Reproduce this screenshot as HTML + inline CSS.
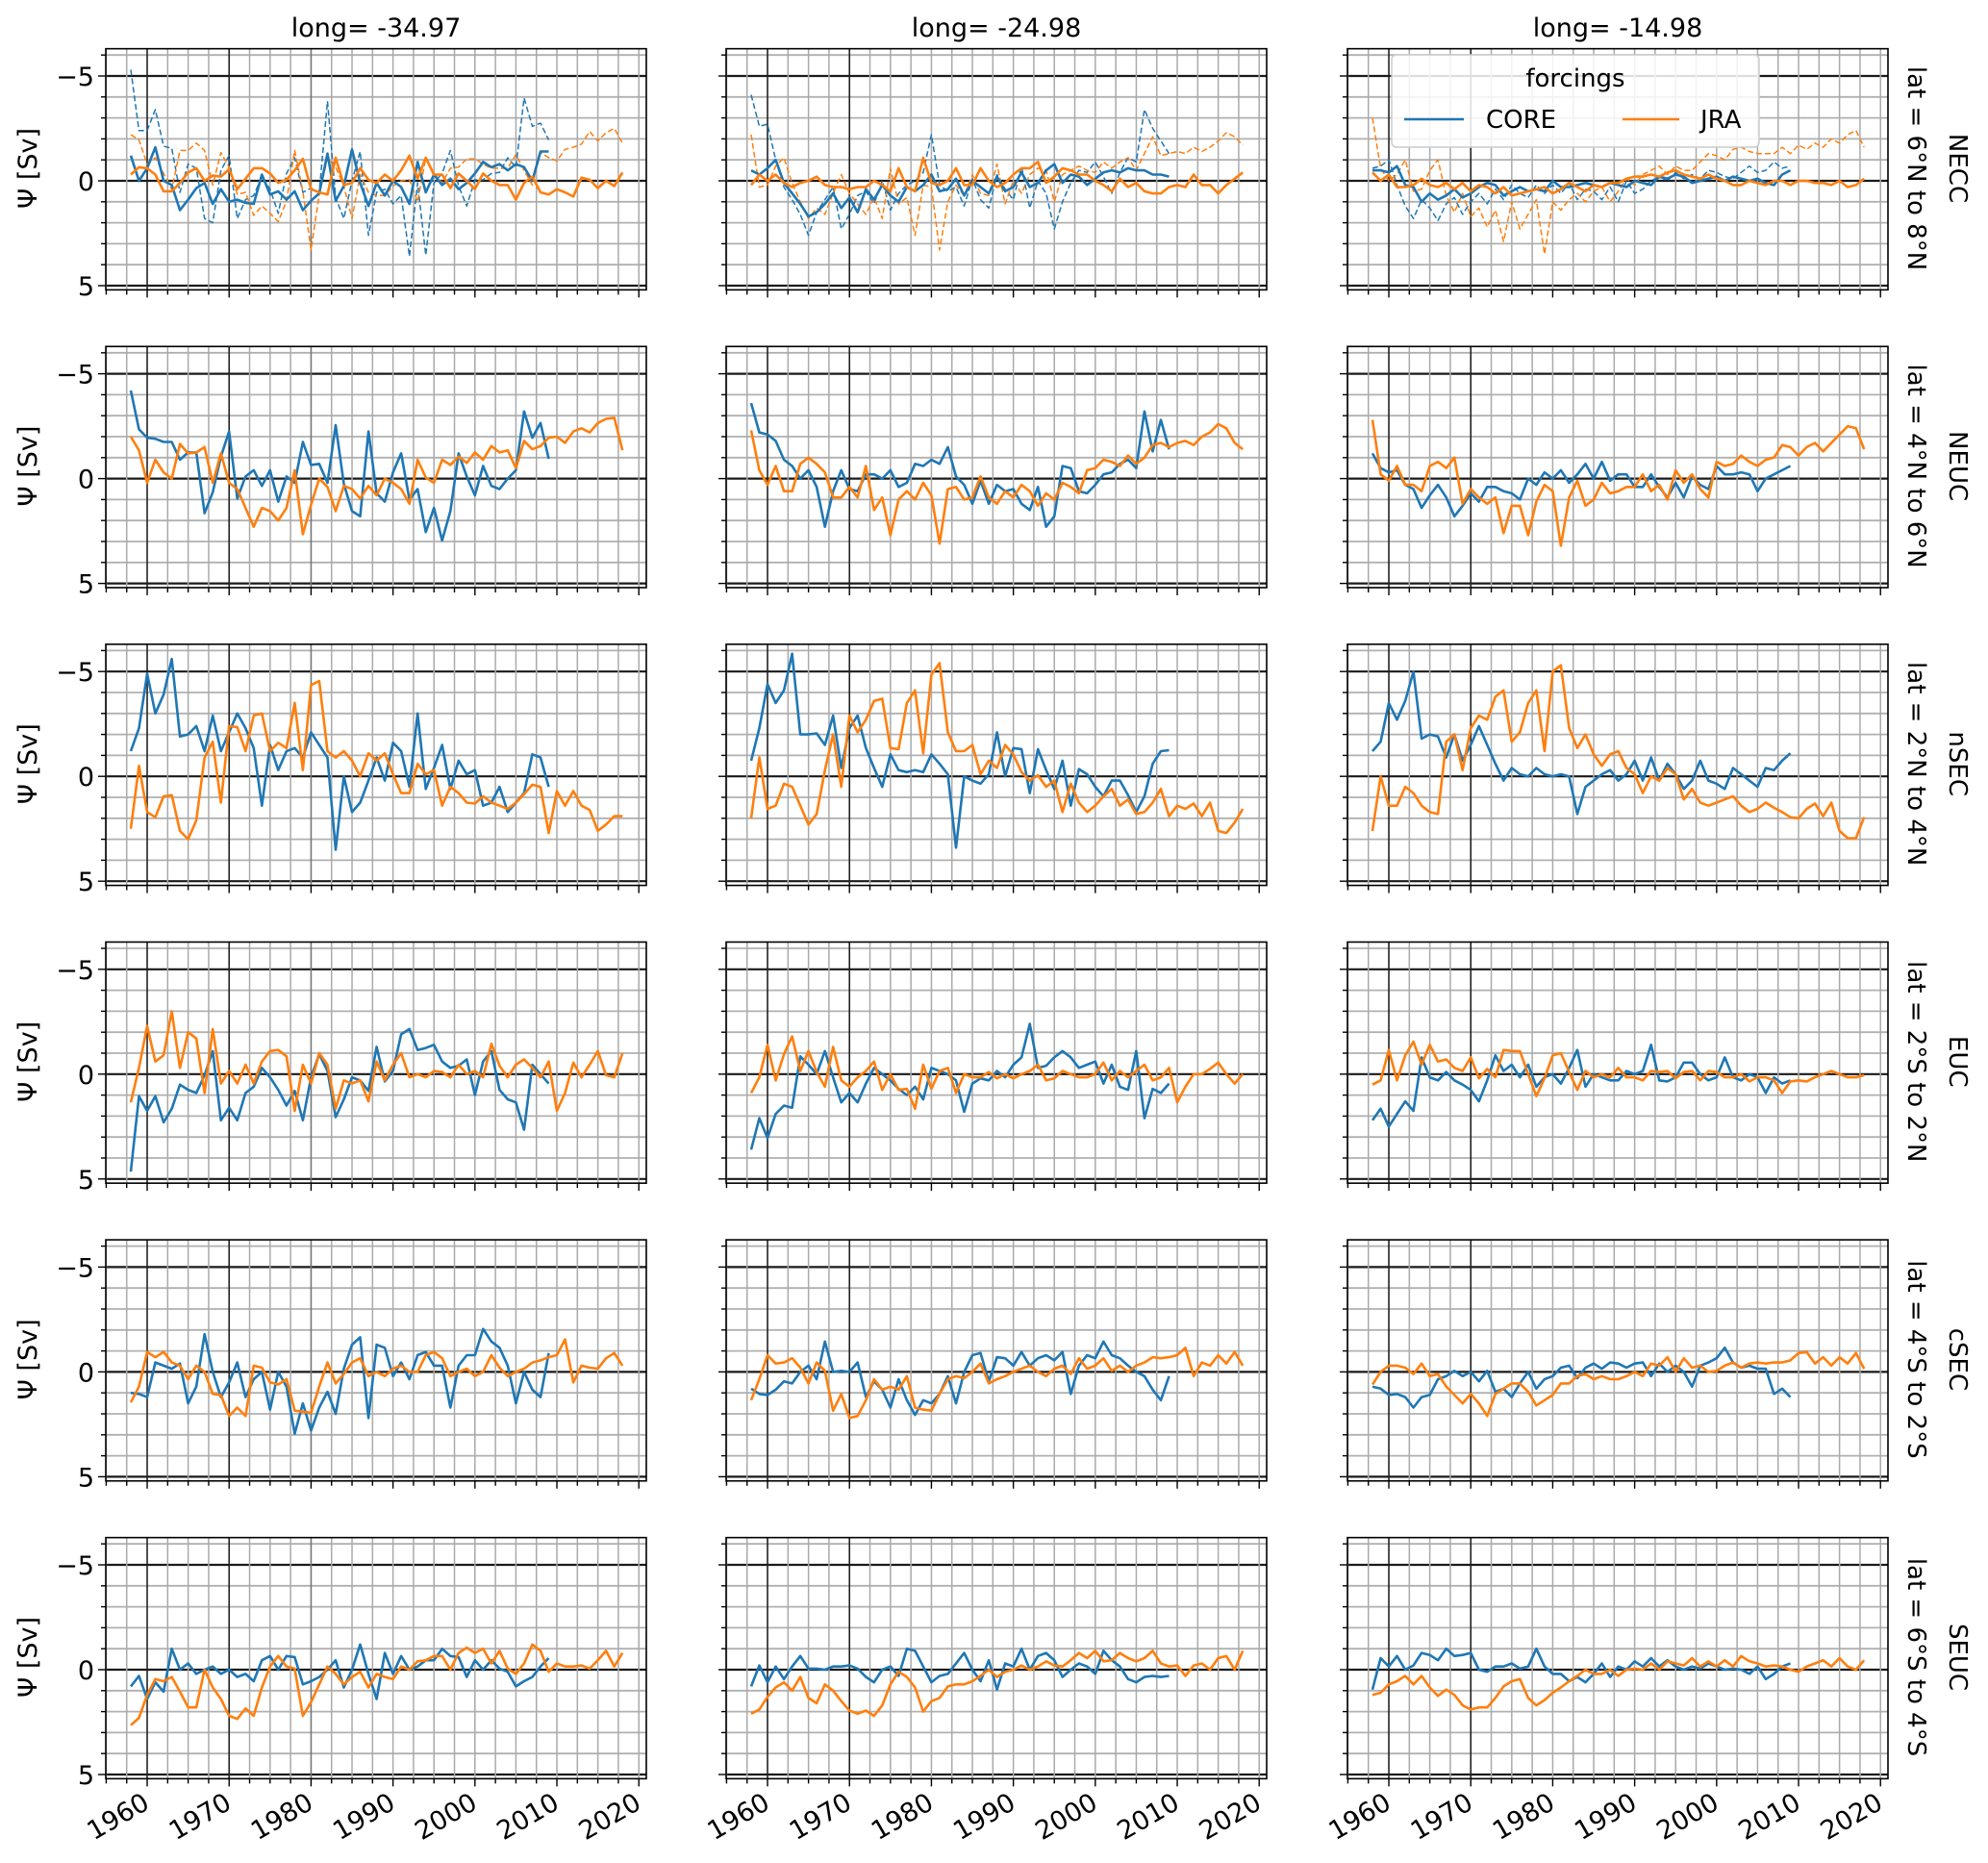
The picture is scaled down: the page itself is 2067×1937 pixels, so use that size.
<!DOCTYPE html>
<html><head><meta charset="utf-8"><style>
html,body{margin:0;padding:0;background:#fff;}
svg{display:block;font-family:"DejaVu Sans","Liberation Sans",sans-serif;}
</style></head><body>
<svg id="chart" width="2067" height="1937" viewBox="0 0 2067 1937" xmlns="http://www.w3.org/2000/svg"></svg>
<script>
// ---------- data (Sv, years from 1958) ----------
const colTitles = ["long= -34.97","long= -24.98","long= -14.98"];
const rowLat = ["lat = 6°N to 8°N","lat = 4°N to 6°N","lat = 2°N to 4°N","lat = 2°S to 2°N","lat = 4°S to 2°S","lat = 6°S to 4°S"];
const rowName = ["NECC","NEUC","nSEC","EUC","cSEC","SEUC"];
const xTickLabels = ["1960","1970","1980","1990","2000","2010","2020"];
const yTickLabels = ["−5","0","5"];
const startYear = 1958;

const core_r1c1 = [-1.2,0,-0.6,-1.6,0,0.2,1.4,0.9,0.35,0.1,1.1,0.4,1.0,0.9,1.05,1.1,-0.3,0.65,0.5,0.9,0.5,1.4,0.95,0.6,-1.3,0.95,0.25,-1.5,0.1,1.2,0.1,0.7,0,0.3,1.1,-0.9,0.55,-0.3,0.2,-0.1,0.4,0.1,-0.35,-0.9,-0.65,-0.8,-0.5,-0.8,-0.65,0,-1.4,-1.4];
const jra_r1c1 = [-0.3,-0.65,-0.6,-0.3,0.5,0.5,0.1,-0.4,-0.6,0,-0.25,-0.2,-0.55,0.4,-0.1,-0.6,-0.6,-0.35,0.1,-0.05,-0.5,-1.05,0.4,0.55,0.65,-1.1,0.2,0.1,-0.6,-0.05,0.1,-0.3,0,-0.5,-1.2,-0.1,-1.1,-0.3,-0.3,0.35,-0.35,0,0.4,-0.35,0,0.2,0.2,0.9,0.1,-0.2,0.55,0.65,0.4,0.55,0.75,-0.15,-0.05,0.35,0,0.25,-0.4];
const coreD_r1c1 = [-5.3,-2.4,-2.4,-3.4,-1.65,-1.55,0.55,-0.8,-0.6,1.8,2.0,-0.5,-1.2,1.8,0.9,0.7,-0.2,0.4,1.55,-0.35,-1.1,0.55,0.35,0.55,-3.8,0.8,1.8,0,-1.4,2.6,0.55,0.4,1.1,0.7,3.6,0.1,3.55,0.1,-0.35,-1.45,0.25,1.2,-0.05,-0.05,-0.35,-0.4,-1.1,-0.65,-3.95,-2.6,-2.75,-1.95];
const jraD_r1c1 = [-2.2,-1.95,-0.8,-1.1,-0.35,0.4,-1.45,-1.45,-1.8,-1.45,0.2,-1.35,-0.65,0.65,0.55,1.65,1.2,1.55,1.95,0.95,-1.45,0.5,3.3,0.65,-1.1,-0.65,0.25,1.8,-0.3,0.55,0.7,0.7,0.25,0,-0.05,1.0,-1.1,-0.35,0.1,-0.6,-0.65,-1.05,-1.05,-0.8,-0.6,-0.6,-0.6,-1.25,-0.5,0.2,-1.35,-1.1,-0.95,-1.5,-1.6,-1.75,-2.35,-1.9,-2.3,-2.5,-1.8];

const core_r1c2 = [-0.5,-0.3,-0.6,-1.0,0.1,0.6,1.1,1.7,1.5,1.1,0.6,1.3,0.8,1.5,0.4,0.9,0.2,0.7,1.0,0.3,0.5,0.2,-0.3,0.5,0.4,-0.1,0.7,0.0,0.3,0.6,-0.2,0.5,0.3,-0.4,0.3,0.1,-0.5,-0.8,0.1,-0.3,-0.2,0.2,-0.1,-0.4,-0.5,-0.4,-0.6,-0.5,-0.5,-0.3,-0.3,-0.2];
const jra_r1c2 = [0.2,-0.3,0.0,-0.3,0.1,0.3,0.1,0.0,-0.2,0.2,0.3,0.3,0.4,0.3,0.3,0.0,0.2,0.5,-0.6,0.3,0.5,-1.1,0.1,0.2,0.0,-0.6,0.2,0.2,-0.6,0.0,0.3,0.1,-0.3,-0.6,-0.6,-0.9,0.1,-0.2,-0.6,-0.5,-0.3,-0.3,0.0,0.2,0.5,-0.1,0.3,0.1,0.5,0.6,0.6,0.3,0.2,0.3,-0.3,0.2,0.2,0.6,0.2,-0.1,-0.4];
const coreD_r1c2 = [-4.1,-2.6,-2.7,-1.0,0.3,0.9,1.6,2.6,1.5,0.9,0.3,2.3,1.6,0.7,0.5,1.1,0.0,1.4,0.6,0.2,0.0,-0.4,-2.2,0.2,0.5,0.3,1.2,-0.1,0.9,1.3,-0.3,0.4,0.9,-0.7,1.3,0.0,0.6,2.3,1.0,0.1,-0.5,-0.4,-0.9,-0.2,0.6,-0.4,-1.1,-0.9,-3.4,-2.5,-1.9,-1.3];
const jraD_r1c2 = [-2.2,0.3,0.2,-0.7,-1.1,0.1,1.0,1.8,1.3,1.6,0.6,-0.3,0.6,1.1,1.6,0.8,1.8,-0.6,1.1,0.8,2.6,0.2,0.3,3.3,1.0,0.2,0.7,-0.3,0.6,0.7,-0.8,1.1,0.0,0.6,-0.3,-0.6,-0.5,1.0,-0.3,-0.5,-0.7,-0.5,-0.4,-0.9,-0.6,-0.9,-1.1,-0.5,-1.3,-2.1,-1.2,-1.3,-1.4,-1.3,-1.6,-1.4,-1.6,-1.9,-2.3,-2.1,-1.7];

const core_r1c3 = [-0.5,-0.5,-0.4,-0.7,0.2,0.3,1.0,0.6,0.9,0.7,0.4,0.8,0.6,0.3,0.1,0.2,0.7,0.5,0.3,0.5,0.4,0.5,0.0,0.3,0.3,0.2,0.1,0.2,0.3,0.1,0.2,0.3,0.0,0.1,0.2,-0.2,-0.1,-0.3,-0.2,0.1,0.0,-0.1,-0.2,0.0,-0.2,-0.1,0.0,-0.1,0.1,0.2,-0.3,-0.5];
const jra_r1c3 = [-0.4,0.0,-0.3,0.3,0.3,0.2,-0.1,0.2,0.3,0.1,0.4,0.1,0.5,0.2,0.3,0.6,0.3,0.7,0.6,0.5,0.4,0.3,0.6,0.4,0.1,0.3,0.5,0.2,0.3,0.1,0.1,-0.1,-0.2,-0.2,-0.3,-0.2,-0.4,-0.5,-0.3,-0.2,-0.1,-0.3,-0.1,0.0,0.2,0.2,0.0,0.1,0.2,0.0,0.0,0.2,0.0,0.0,0.1,0.1,0.2,0.0,0.3,0.2,-0.1];
const coreD_r1c3 = [-0.6,-0.7,-1.0,0.2,1.2,1.8,0.9,1.3,1.9,1.1,0.8,1.6,1.0,0.6,1.1,0.4,0.9,0.2,0.6,0.8,0.2,0.6,0.2,0.6,0.1,0.9,0.4,0.5,0.9,0.3,1.0,0.0,0.6,0.4,0.0,-0.2,0.0,-0.4,-0.1,-0.3,-0.1,-0.5,-0.4,-0.2,-0.1,-0.4,-0.7,-0.4,-0.5,-0.9,-0.6,-0.7];
const jraD_r1c3 = [-3.0,-0.6,0.0,-0.3,-1.0,0.5,0.4,-0.5,-1.0,0.7,1.5,0.6,1.7,1.3,2.2,1.4,2.9,1.0,2.3,1.6,0.9,3.5,1.0,1.4,0.9,0.6,1.0,0.5,0.3,1.0,0.5,-0.1,0.2,-0.3,-0.5,-0.7,-0.3,-0.7,-0.5,-0.5,-0.9,-1.3,-1.2,-1.0,-1.5,-1.6,-1.4,-1.3,-1.3,-1.3,-1.6,-1.3,-1.7,-1.5,-1.8,-1.6,-2.0,-1.8,-2.2,-2.4,-1.6];

const core_r2c1 = [-4.2,-2.35,-1.95,-1.9,-1.75,-1.75,-0.9,-1.25,-1.25,1.65,0.65,-1.05,-2.25,0.95,-0.1,-0.4,0.35,-0.4,1.1,-0.1,0.2,-1.75,-0.65,-0.7,0.2,-2.55,0.25,1.55,1.8,-2.25,0.7,1.1,-0.3,-1.2,1.0,0.5,2.55,1.4,2.95,1.55,-1.2,-0.1,0.8,-0.6,0.35,0.5,0,-0.4,-3.2,-1.95,-2.65,-0.95];
const jra_r2c1 = [-2.0,-1.35,0.2,-0.9,-0.3,0,-1.65,-1.2,-1.25,-1.5,0.2,-1.2,0.2,0.5,1.4,2.3,1.4,1.55,2.0,1.4,-0.4,2.65,1.25,0,0.4,1.55,0.35,0.5,0.95,0.35,0.8,0,0.2,0.5,1.2,-0.9,-0.05,0.2,-0.9,-0.65,-1.05,-0.75,-1.25,-0.9,-1.55,-1.25,-1.35,-0.5,-1.8,-1.4,-1.55,-1.95,-2.0,-1.7,-2.25,-2.4,-2.2,-2.65,-2.85,-2.9,-1.35];
const core_r2c2 = [-3.6,-2.2,-2.1,-1.8,-0.9,-0.6,0.0,-0.4,0.4,2.3,0.6,-0.4,0.5,0.6,-0.2,-0.2,0.0,-0.4,0.4,0.2,-0.7,-0.6,-0.9,-0.7,-1.5,-0.1,0.3,1.2,0.1,1.2,0.3,0.6,0.5,1.2,1.5,0.4,2.3,1.8,-0.6,-0.5,0.6,0.7,0.3,-0.2,-0.3,-0.7,-0.9,-0.5,-3.2,-1.3,-2.8,-1.4];
const jra_r2c2 = [-2.3,-0.4,0.3,-0.6,0.6,0.6,-0.7,-1.0,-0.7,-0.3,0.9,0.9,0.4,0.9,-0.6,1.5,0.9,2.7,1.0,0.6,1.0,0.2,0.8,3.1,0.5,0.4,1.0,0.9,-0.1,0.9,1.2,0.6,0.9,0.3,0.6,1.3,0.7,1.0,0.2,0.4,0.7,-0.4,-0.5,-0.9,-0.8,-0.6,-1.1,-0.7,-1.0,-1.6,-1.7,-1.5,-1.7,-1.8,-1.6,-2.0,-2.2,-2.6,-2.4,-1.7,-1.4];
const core_r2c3 = [-1.2,-0.5,-0.3,-0.4,0.3,0.5,1.4,0.8,0.3,0.9,1.8,1.3,0.7,1.1,0.4,0.4,0.6,0.7,1.0,0.0,0.3,-0.3,0.0,-0.4,0.2,-0.2,-0.7,0.0,-0.8,0.1,-0.2,-0.2,0.4,0.4,-0.2,0.4,0.9,0.2,0.9,-0.1,0.3,0.5,-0.6,-0.2,-0.2,-0.3,-0.2,0.6,0.0,-0.2,-0.4,-0.6];
const jra_r2c3 = [-2.8,-0.2,0.1,-0.6,0.3,0.3,0.6,-0.6,-0.8,-0.5,-1.0,1.2,0.5,0.9,1.2,0.9,2.6,1.3,1.3,2.7,1.1,0.3,0.6,3.2,0.9,0.1,1.3,1.0,0.2,0.7,0.6,0.4,0.4,-0.2,0.6,0.3,1.0,-0.4,0.2,-0.2,0.5,0.9,-0.8,-0.6,-0.7,-1.1,-0.8,-0.6,-0.9,-1.0,-1.6,-1.5,-1.1,-1.5,-1.7,-1.3,-1.7,-2.1,-2.5,-2.4,-1.4];

const core_r3c1 = [-1.2,-2.3,-4.9,-3.0,-3.9,-5.6,-1.9,-2.0,-2.4,-1.2,-2.9,-1.2,-2.1,-3.0,-2.3,-1.35,1.4,-1.5,-0.3,-1.2,-1.35,-0.9,-2.1,-1.5,-0.9,3.5,0.0,1.7,1.25,0.2,-0.9,0.2,-1.6,-1.2,0.5,-3.0,0.6,-0.4,-1.5,0.6,-0.75,-0.1,-0.3,1.4,1.25,0.5,1.7,1.25,0.8,-1.05,-0.9,0.5];
const jra_r3c1 = [2.5,-0.5,1.7,1.95,0.95,0.9,2.6,3.0,2.1,-0.9,-1.65,1.25,-2.4,-2.35,-1.2,-2.9,-3.0,-1.2,-1.6,-1.35,-3.5,-0.3,-4.35,-4.55,-1.2,-0.9,-1.2,-0.75,0,-1.1,-0.75,-1.1,-0.1,0.8,0.8,-0.6,-0.1,-0.3,1.4,0.5,0.8,1.25,1.3,0.95,1.25,1.4,1.55,1.25,0.85,0.4,0.5,2.7,0.7,1.4,0.7,1.4,1.6,2.6,2.3,1.9,1.9];
const core_r3c2 = [-0.75,-2.3,-4.4,-3.5,-4.1,-5.85,-2.0,-2.0,-2.05,-1.5,-2.9,-0.4,-2.3,-2.9,-1.35,-0.4,0.5,-1.05,-0.3,-0.2,-0.3,-0.2,-1.05,-0.6,-0.1,3.4,0.0,0.2,0.35,-0.1,-2.1,0,-1.35,-1.3,0.8,-1.3,-0.3,0.6,-0.75,1.4,-0.35,-0.1,0.5,0.95,0.2,0.2,0.9,1.7,0.95,-0.6,-1.2,-1.25];
const jra_r3c2 = [2.0,-0.9,1.55,1.4,0.35,0.5,1.4,2.3,1.8,-0.3,-2.0,0.5,-2.9,-2.1,-2.7,-3.6,-3.7,-1.35,-1.3,-3.5,-4.1,-1.1,-4.85,-5.4,-2.1,-1.2,-1.2,-1.5,-0.1,-0.75,-0.4,-1.5,-1.05,-0.2,0.2,-0.05,0.5,0.2,1.7,0.35,1.25,1.7,1.4,0.95,0.6,1.4,1.1,1.8,1.7,1.25,0.6,1.9,1.4,1.55,1.3,1.9,1.25,2.6,2.7,2.2,1.55];
const core_r3c3 = [-1.2,-1.65,-3.5,-2.7,-3.6,-5.0,-1.8,-2.0,-1.9,-0.9,-2.0,-0.75,-1.5,-2.4,-1.5,-0.6,0.2,-0.4,-0.1,0,-0.4,-0.1,0,-0.1,0,1.8,0.5,0.2,-0.1,-0.3,0.2,-0.1,-0.75,0.2,-0.9,0.2,-0.6,-0.1,0.6,0.2,-0.75,0.2,0.35,0.6,-0.4,-0.1,0.2,0.5,-0.4,-0.3,-0.75,-1.1];
const jra_r3c3 = [2.6,0,1.4,1.4,0.5,0.8,1.4,1.7,1.8,-1.65,-2.0,-0.3,-2.3,-2.9,-2.7,-3.8,-4.1,-1.65,-2.1,-3.5,-4.1,-1.2,-5.0,-5.3,-2.3,-1.35,-2.0,-1.05,-0.5,-1.05,-1.2,-0.4,-0.1,0.8,0,0.2,-0.4,-0.1,1.1,0.6,1.25,1.4,1.25,1.1,0.95,1.4,1.7,1.55,1.25,1.5,1.7,1.95,2.0,1.55,1.3,1.9,1.25,2.6,2.95,2.95,1.95];

const core_r4c1 = [4.65,1.05,1.75,1.05,2.3,1.65,0.5,0.75,0.9,0.05,-1.1,2.2,1.6,2.2,0.9,0.6,-0.3,0.15,0.75,1.5,0.8,2.2,0.15,-0.95,-0.15,2.05,1.2,0.15,0.3,0.8,-1.3,0.35,-0.15,-1.9,-2.15,-1.15,-1.25,-1.4,-0.6,-0.3,-0.4,-0.7,1.0,-0.6,-1.1,0.75,1.2,1.35,2.65,-0.45,0,0.45];
const jra_r4c1 = [1.35,-0.3,-2.3,-0.6,-0.9,-3.0,-0.3,-2.0,-1.7,0.9,-2.15,0.45,-0.15,0.45,-0.45,0.45,-0.6,-1.1,-1.15,-0.85,1.75,-0.45,0.45,-1.0,-0.45,1.65,0.3,0.45,0.3,1.3,-0.6,0.3,-0.45,-1.0,0.15,0,0.15,-0.15,-0.1,0.15,-0.45,0,-0.15,0.15,-1.45,-0.4,0.15,-0.45,-0.7,-0.3,0.15,-0.6,1.75,0.9,-0.55,0.15,-0.45,-1.1,0.05,0.15,-1.0];
const core_r4c2 = [3.6,2.1,3.05,1.9,1.5,1.6,-0.85,-0.45,0,-1.1,0.15,1.35,0.9,1.35,0.45,-0.3,0,0.3,0.7,1.0,0.6,1.2,-0.3,-0.15,0,0.3,1.8,0.45,0.2,0.3,-0.15,0.15,-0.45,-0.8,-2.4,-0.3,-0.4,-0.8,-1.1,-0.8,-0.3,-0.45,-0.6,0.45,-0.45,0.6,0.75,-1.1,2.1,0.7,0.9,0.45];
const jra_r4c2 = [0.9,0.15,-1.4,0.3,-0.95,-1.8,-0.15,-1.1,-0.1,0.6,-1.3,0.3,0.6,0.15,-0.15,-0.6,0.75,0,0.75,0.7,1.65,-0.45,0.7,-0.15,-0.3,0.9,0,0.15,0.15,-0.1,0.2,0,0.2,0,-0.15,-0.45,0.3,0.2,-0.15,0,0.15,0.15,0,-0.55,0.3,-0.15,0.15,-0.15,-0.45,0.3,0.15,-0.3,1.35,0.6,0,0,-0.25,-0.55,0,0.45,0];
const core_r4c3 = [2.2,1.65,2.5,1.9,1.3,1.75,-0.8,0.15,0.3,-0.1,0.3,0.5,0.75,1.3,0.3,-0.9,-0.15,-0.45,0.15,-0.45,0.6,0.15,0,0.45,-0.3,-1.15,0.6,0,0.15,0.3,0.3,-0.15,0,-0.15,-1.4,0.3,0.35,0.15,-0.55,-0.55,0,0.3,0.15,-0.8,0.15,0.3,0,0.15,0.9,0.15,0.45,0.3];
const jra_r4c3 = [0.5,0.3,-1.15,0.3,-0.9,-1.55,-0.45,-1.4,-0.6,-0.7,-0.3,-0.15,-0.8,0.2,-0.25,0.15,-1.15,-1.1,-1.1,0,1.05,0.2,-0.9,-1.0,-0.1,0.75,-0.15,0.15,0,0.15,-0.3,0.15,0.15,0.3,-0.15,-0.1,-0.15,0.2,-0.1,-0.15,0.3,-0.15,-0.1,0.15,0.15,0,0.35,0.15,0.15,0.3,0.9,0.35,0.3,0.35,0.15,0,-0.15,0,0.15,0.15,0.05];

const core_r5c1 = [1.0,1.05,1.2,-0.45,-0.3,-0.15,-0.4,1.5,0.7,-1.8,0,1.2,0.5,-0.45,1.2,0.35,0,1.8,0,0.7,2.95,1.5,2.8,1.7,0.95,2.0,-0.15,-1.3,-1.65,2.2,-1.3,-1.15,0.2,-0.45,0.35,-0.8,-0.95,-0.3,-0.3,1.7,-0.3,-0.8,-0.8,-2.05,-1.45,-1.15,-0.3,1.5,0,0.85,1.2,-0.9];
const jra_r5c1 = [1.45,0.7,-0.95,-0.7,-0.95,-0.45,-0.3,0.35,-0.3,0,1.05,1.1,2.1,1.7,2.1,-0.3,-0.2,0.5,0.6,0.35,1.85,1.9,1.95,0.7,-0.45,0.55,0.1,-0.45,-0.65,0.2,0,0.2,-0.15,-0.3,0,0,-0.8,-0.95,-0.65,0.2,0,-0.15,0.2,0,-0.8,-0.2,0.2,0,-0.15,-0.45,-0.55,-0.7,-0.8,-1.55,0.5,-0.3,-0.2,-0.15,-0.65,-0.9,-0.3];
const core_r5c2 = [0.8,1.05,1.1,0.85,0.45,0.55,0,-0.3,0.35,-1.45,0,-0.05,0,-0.45,1.2,0.45,0.85,1.7,0.35,1.35,2.05,1.35,1.5,1.05,0.2,1.5,0,-0.8,-0.9,0.45,-0.7,-0.65,-0.3,-0.95,-0.3,-0.65,-0.8,-0.55,-0.95,1.05,-0.3,-0.8,-0.65,-1.45,-0.8,-0.65,-0.3,0,0.2,0.85,1.35,0.2];
const jra_r5c2 = [1.35,0.35,-0.8,-0.4,-0.45,-0.65,-0.2,0.55,-0.45,-0.05,1.85,1.05,2.2,2.1,1.35,0.35,0.85,0.7,0.85,0.2,1.7,1.8,1.85,1.05,0.35,0.2,0.3,0,-0.4,0.55,0.35,0.2,0,-0.15,-0.3,0,0.2,-0.15,-0.3,0.1,-0.65,-0.15,-0.3,-0.65,-0.05,-0.3,0,-0.3,-0.45,-0.7,-0.65,-0.7,-0.8,-1.15,0.2,-0.45,-0.3,-0.8,-0.4,-0.95,-0.3];
const core_r5c3 = [0.7,0.8,1.1,1.05,1.2,1.7,1.2,1.1,0.35,0.2,-0.05,0.2,0,0.45,-0.05,0.95,0.8,1.2,0.55,0,0.8,0.35,0.2,-0.2,-0.3,0.3,-0.2,-0.4,-0.15,-0.45,-0.4,-0.2,-0.4,-0.45,0.2,-0.4,0,-0.3,0,0.7,-0.3,-0.45,-0.65,-1.15,-0.45,-0.2,-0.3,-0.15,-0.15,1.05,0.8,1.2];
const jra_r5c3 = [0.6,0,-0.3,-0.3,-0.2,0.1,-0.4,0.2,0.1,0.7,1.1,1.5,1.05,1.5,2.1,1.05,0.8,0.55,0.55,0.95,1.6,1.35,1.1,0.55,0.55,0.2,0.1,0.35,0.2,0.35,0.35,0.2,0,0.2,-0.4,-0.3,-0.7,0,-0.65,-0.2,-0.3,0,-0.05,-0.3,-0.45,-0.2,-0.4,-0.45,-0.4,-0.45,-0.45,-0.55,-0.9,-0.95,-0.4,-0.7,-0.3,-0.7,-0.4,-0.9,-0.15];

const core_r6c1 = [0.8,0.3,1.4,0.6,1.05,-1.0,0,-0.3,0.2,0,-0.15,0.2,0,0.35,0.2,0.55,-0.45,-0.65,0,-0.65,-0.6,0.7,0.55,0.35,0,-0.45,0.85,0,-1.2,0.2,1.4,-0.8,0.2,-0.65,0,-0.15,-0.45,-0.45,-1.0,-0.65,-0.6,0.35,-0.45,0,-0.45,-0.05,0.1,0.8,0.55,0.35,-0.15,-0.55];
const jra_r6c1 = [2.65,2.3,1.2,0.45,0.55,0.35,1.05,1.8,1.8,0,0.85,1.4,2.2,2.35,1.85,2.2,0.85,-0.15,-0.65,-0.15,-0.05,2.2,1.55,0.7,-0.15,0.2,0.7,0.35,0.1,0.85,0.2,0.35,0.45,-0.15,0,-0.4,-0.45,-0.65,-0.65,0,-0.8,-1.05,-0.8,-1.0,-0.3,-0.9,-0.05,0.2,-0.3,-1.2,-0.9,0.1,-0.3,-0.15,-0.15,-0.2,-0.05,-0.45,-0.9,-0.15,-0.8];
const core_r6c2 = [0.8,-0.2,0.6,-0.15,0.45,-0.15,-0.65,-0.05,-0.05,0,-0.15,-0.15,-0.2,-0.05,0.35,0.6,0,-0.15,0.3,-1.0,-0.9,-0.15,0.6,0.3,0.2,-0.3,-0.8,0,0.55,-0.45,0.95,-0.3,-0.15,-1.0,0,-0.65,-0.8,-0.45,0.35,0,-0.3,-0.15,0.2,-0.9,-0.45,-0.15,0.45,0.6,0.35,0.3,0.35,0.3];
const jra_r6c2 = [2.1,1.9,1.3,0.85,0.6,1.0,0.35,1.35,1.6,0.7,1.0,1.5,1.95,2.1,1.95,2.2,1.7,0.7,0.1,0.35,0.85,2.0,1.5,1.35,0.8,0.7,0.7,0.55,0.3,0,0.35,0.1,0,-0.2,0,-0.15,-0.4,-0.2,-0.15,-0.45,-0.8,-0.55,-0.9,-0.4,-0.45,-0.8,-0.55,-0.4,-0.55,-0.9,-0.3,-0.15,-0.2,0.3,-0.2,-0.3,0,-0.55,-0.65,0,-0.9];
const core_r6c3 = [0.95,-0.55,-0.15,-0.65,0,-0.2,-0.8,-0.7,-0.45,-1.0,-0.65,-0.7,-0.8,0,0.1,-0.15,-0.15,-0.3,-0.05,-0.15,-1.0,-0.15,0.2,0.2,0.55,0.35,0.6,0.2,-0.3,0.35,-0.15,0,-0.4,-0.15,-0.55,-0.15,-0.45,-0.15,0,-0.15,-0.05,-0.3,-0.15,0,-0.05,0,0.2,-0.15,0.45,0.2,-0.15,-0.3];
const jra_r6c3 = [1.2,1.1,0.7,0.55,0.3,0.7,0.3,0.85,1.25,0.95,1.2,1.7,1.9,1.8,1.8,1.35,0.8,0.55,0.45,1.35,1.7,1.45,1.1,0.85,0.55,0.3,0,0.2,0.2,0,0.3,0,-0.05,0,-0.3,0,-0.4,-0.3,-0.2,-0.55,-0.15,-0.4,-0.15,-0.45,-0.15,-0.65,-0.4,-0.3,-0.15,-0.2,-0.15,0,0.1,-0.15,-0.3,-0.45,-0.15,-0.55,-0.15,0,-0.45];

// ---------- layout ----------
const NS = "http://www.w3.org/2000/svg";
const svg = document.getElementById("chart");
const colLeft = [110, 755, 1401];
const axW = 562;
const X0YEAR = 1954.95, PXYR = 8.52;
const PXSV = 21.8;
const Y0 = 188, ROWSTEP = 309.6;
const VMIN = -6.3, VMAX = 5.2;
const CORE = "#1f77b4", JRA = "#ff7f0e";

function el(tag, attrs, parent){
  const e = document.createElementNS(NS, tag);
  for (const k in attrs) e.setAttribute(k, attrs[k]);
  (parent||svg).appendChild(e);
  return e;
}
function xScale(c, yr){ return colLeft[c] + (yr - X0YEAR) * PXYR; }
function yScale(r, v){ return Y0 + r*ROWSTEP + v*PXSV; }

const panels = [
  [[core_r1c1,jra_r1c1,coreD_r1c1,jraD_r1c1],[core_r1c2,jra_r1c2,coreD_r1c2,jraD_r1c2],[core_r1c3,jra_r1c3,coreD_r1c3,jraD_r1c3]],
  [[core_r2c1,jra_r2c1],[core_r2c2,jra_r2c2],[core_r2c3,jra_r2c3]],
  [[core_r3c1,jra_r3c1],[core_r3c2,jra_r3c2],[core_r3c3,jra_r3c3]],
  [[core_r4c1,jra_r4c1],[core_r4c2,jra_r4c2],[core_r4c3,jra_r4c3]],
  [[core_r5c1,jra_r5c1],[core_r5c2,jra_r5c2],[core_r5c3,jra_r5c3]],
  [[core_r6c1,jra_r6c1],[core_r6c2,jra_r6c2],[core_r6c3,jra_r6c3]]
];

function linePath(c, r, vals){
  return vals.map((v,i)=>(i?"L":"M")+xScale(c,startYear+i).toFixed(1)+","+yScale(r,v).toFixed(1)).join(" ");
}

for (let r=0;r<6;r++){
  for (let c=0;c<3;c++){
    const g = el("g",{});
    
    
    const L = colLeft[c], R = L+axW, T = yScale(r,VMIN), B = yScale(r,VMAX);
    const clipId = "clip"+r+"_"+c;
    const cp = el("clipPath",{id:clipId},g);
    el("rect",{x:L,y:T,width:axW,height:B-T},cp);
    // minor horizontal grid each 1 Sv
    for (let v=-6; v<=5; v++){
      const major = (v%5===0);
      const gl = el("line",{x1:L,x2:R,y1:yScale(r,v),y2:yScale(r,v),stroke:major?"#1a1a1a":"#b0b0b0","stroke-width":major?2.2:1.8},g);
      
      
    }
    // vertical grid every 2.5 yr
    for (let yr=1955; yr<=2020.01; yr+=2.5){
      const x = xScale(c,yr);
      let col="#aaaaaa", w=1.5;
      if (Math.abs(yr-1960)<0.01||Math.abs(yr-1970)<0.01){col="#222";w=1.6;}
      else if (Math.abs(yr-1980)<0.01 && c===0){col="#777";w=1.6;}
      const vl = el("line",{x1:x,x2:x,y1:T,y2:B,stroke:col,"stroke-width":w},g);
      
      
    }
    // series
    const series = panels[r][c];
    const styles = [
      {stroke:CORE,w:2.6,dash:null,name:"core-line"},
      {stroke:JRA,w:2.6,dash:null,name:"jra-line"},
      {stroke:CORE,w:1.5,dash:"6,3",name:"core-dashed-line"},
      {stroke:JRA,w:1.5,dash:"6,3",name:"jra-dashed-line"}
    ];
    const order = series.length===4 ? [2,3,0,1] : [0,1];
    for (const k of order){
      const st = styles[k];
      const p = el("path",{d:linePath(c,r,series[k]),fill:"none",stroke:st.stroke,"stroke-width":st.w,"stroke-linejoin":"round","clip-path":"url(#"+clipId+")"},g);
      if (st.dash) p.setAttribute("stroke-dasharray",st.dash);
      
      
    }
    // frame
    const fr = el("rect",{x:L,y:T,width:axW,height:B-T,fill:"none",stroke:"#000","stroke-width":1.6},g);
    
    
    // y ticks
    for (let v=-6; v<=5; v++){
      const major=(v%5===0);
      el("line",{x1:L,x2:L-(major?8:5),y1:yScale(r,v),y2:yScale(r,v),stroke:"#000","stroke-width":1.4},g);
    }
    if (c===0){
      [-5,0,5].forEach((v,i)=>{
        const t = el("text",{x:L-12,y:yScale(r,v)+10,"text-anchor":"end","font-size":27,fill:"#000"},g);
        t.textContent = yTickLabels[i];
        
        
      });
      const yl = el("text",{x:0,y:0,"text-anchor":"middle","font-size":27,fill:"#000",transform:"translate(38,"+(yScale(r,0)-13)+") rotate(-90)"},g);
      yl.textContent = "Ψ [Sv]";
      
      
    }
    // x ticks
    for (let yr=1955; yr<=2020.01; yr+=2.5){
      const major = Math.abs(yr/10-Math.round(yr/10))<0.001;
      const x = xScale(c,yr);
      el("line",{x1:x,x2:x,y1:B,y2:B+(major?8:5),stroke:"#000","stroke-width":1.4},g);
    }
    if (r===5){
      xTickLabels.forEach((lab,i)=>{
        const x = xScale(c,1960+10*i);
        const t = el("text",{x:0,y:0,"text-anchor":"end","font-size":27,fill:"#000",transform:"translate("+(x+4)+","+(B+30)+") rotate(-30)"},g);
        t.textContent = lab;
        
        
      });
    }
    if (r===0){
      const t = el("text",{x:L+axW/2,y:38,"text-anchor":"middle","font-size":27,fill:"#000"},g);
      t.textContent = colTitles[c];
      
      
    }
    if (c===2){
      const cy = yScale(r,0)-13;
      const t1 = el("text",{x:0,y:0,"text-anchor":"middle","font-size":26,fill:"#000",transform:"translate(1984,"+cy+") rotate(90)"},g);
      t1.textContent = rowLat[r];
      
      
      const t2 = el("text",{x:0,y:0,"text-anchor":"middle","font-size":26,fill:"#000",transform:"translate(2027,"+cy+") rotate(90)"},g);
      t2.textContent = rowName[r];
      
      
    }
  }
}

// legend
const lg = el("g",{});


const lbox = el("rect",{x:1447,y:57,width:382,height:96,rx:5,fill:"#fff","fill-opacity":0.85,stroke:"#cccccc","stroke-width":1.5},lg);


const lt = el("text",{x:1638,y:90,"text-anchor":"middle","font-size":26,fill:"#000"},lg);
lt.textContent = "forcings";


const l1 = el("line",{x1:1460,x2:1522,y1:124,y2:124,stroke:CORE,"stroke-width":2.6},lg);


const t1 = el("text",{x:1545,y:133,"font-size":26,fill:"#000"},lg);
t1.textContent = "CORE";


const l2 = el("line",{x1:1687,x2:1746,y1:124,y2:124,stroke:JRA,"stroke-width":2.6},lg);


const t2 = el("text",{x:1768,y:133,"font-size":26,fill:"#000"},lg);
t2.textContent = "JRA";


</script>
</body></html>
